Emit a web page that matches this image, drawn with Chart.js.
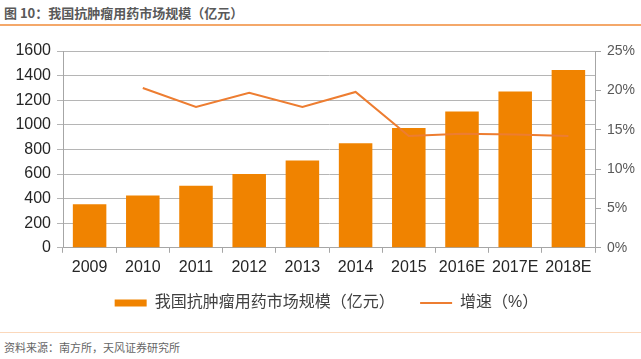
<!DOCTYPE html>
<html>
<head>
<meta charset="utf-8">
<script src="https://cdn.jsdelivr.net/npm/chart.js@4"></script>
<style>
  body { margin: 0; width: 641px; height: 359px; background: #fff; position: relative; overflow: hidden;
         font-family: "Liberation Sans", "Noto Sans CJK SC", sans-serif; }
  #titulo { position: absolute; left: 4px; top: 3px; font-size: 13px; font-weight: bold; color: #595959;
            font-family: "Noto Sans CJK SC", sans-serif; }
  #lineaTop { position: absolute; left: 0; top: 24px; width: 641px; height: 2px; background: #f4a86a; }
  #lineaBot { position: absolute; left: 0; top: 332px; width: 641px; height: 1px; background: #fbd8bb; }
  #fuente { position: absolute; left: 4px; top: 339px; font-size: 11px; color: #666;
            font-family: "Noto Sans CJK SC", sans-serif; }
  #caja { position: absolute; left: 0; top: 30px; width: 641px; height: 295px; }
</style>
</head>
<body>
<div id="titulo">图 10：我国抗肿瘤用药市场规模（亿元）</div>
<div id="lineaTop"></div>
<div id="caja"><canvas id="grafico"></canvas></div>
<div id="lineaBot"></div>
<div id="fuente">资料来源：南方所，天风证券研究所</div>
<script>
const anios = ['2009', '2010', '2011', '2012', '2013', '2014', '2015', '2016E', '2017E', '2018E'];
const mercado = [355, 425, 505, 600, 710, 850, 975, 1108, 1270, 1445];
const crecimiento = [null, 20.3, 17.9, 19.7, 17.9, 19.8, 14.2, 14.5, 14.4, 14.2];

const fuente = '"Liberation Sans", "Noto Sans CJK SC", sans-serif';

const ctx = document.getElementById('grafico').getContext('2d');
new Chart(ctx, {
  data: {
    labels: anios,
    datasets: [
      {
        type: 'line',
        label: '增速（%）',
        data: crecimiento,
        yAxisID: 'yDer',
        borderColor: '#ED7D31',
        backgroundColor: '#ED7D31',
        borderWidth: 2,
        pointRadius: 0,
        pointStyle: 'line',
        order: 0
      },
      {
        type: 'bar',
        label: '我国抗肿瘤用药市场规模（亿元）\u3000 ',
        data: mercado,
        yAxisID: 'yIzq',
        backgroundColor: '#F08300',
        borderWidth: 0,
        pointStyle: 'rect',
        barPercentage: 0.63,
        categoryPercentage: 1,
        order: 1
      }
    ]
  },
  options: {
    responsive: true,
    maintainAspectRatio: false,
    animation: false,
    layout: { padding: { top: 21, right: 0, left: 12, bottom: 4 } },
    plugins: {
      tooltip: { enabled: false },
      legend: {
        position: 'bottom',
        reverse: true,
        labels: {
          usePointStyle: true,
          pointStyleWidth: 32,
          boxHeight: 7,
          padding: 13,
          color: '#404040',
          font: { size: 16, family: fuente }
        }
      }
    },
    scales: {
      x: {
        offset: true,
        grid: { drawOnChartArea: false, drawTicks: true, tickLength: 5, color: '#a6a6a6', offset: true },
        border: { color: '#a6a6a6' },
        ticks: { color: '#262626', font: { size: 16, family: fuente }, padding: 5, maxRotation: 0, autoSkip: false }
      },
      yIzq: {
        position: 'left',
        min: 0,
        max: 1600,
        ticks: { stepSize: 200, color: '#262626', font: { size: 16, family: fuente }, padding: 6, callback: v => String(v) },
        grid: { color: '#b5b5b5', tickLength: 6 },
        border: { color: '#a6a6a6' },
        afterFit: s => { s.width = 51; }
      },
      yDer: {
        position: 'right',
        min: 0,
        max: 25,
        ticks: { stepSize: 5, color: '#595959', font: { size: 14, family: fuente }, padding: 6, callback: v => v + '%' },
        grid: { drawOnChartArea: false, tickLength: 6, color: '#a6a6a6' },
        border: { color: '#a6a6a6' },
        afterFit: s => { s.width = 46; }
      }
    }
  }
});
</script>
</body>
</html>
